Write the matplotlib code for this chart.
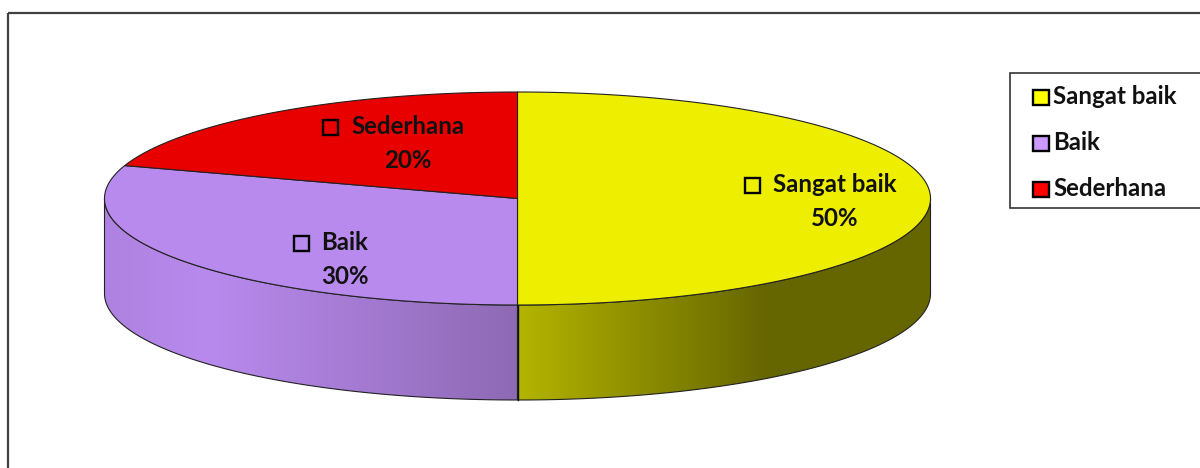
import numpy as np
import matplotlib
matplotlib.use("Agg")
import matplotlib.pyplot as plt
from matplotlib.patches import Polygon, Rectangle
from matplotlib.colors import LinearSegmentedColormap

# data
labels = ["Sangat baik", "Baik", "Sederhana"]
values = [50, 30, 20]
legend_colors = ["#FFFF00", "#CC99FF", "#FF0000"]
top_colors = ["#EEEE00", "#B98AEE", "#E80000"]
side_colors = [("#B4B400", "#666600"), ("#B98AEE", "#8E6AB4"), ("#E80000", "#990000")]

# ellipse geometry (pixel coords)
cx, cy, rx, ry, depth = 517.5, 198.5, 413.0, 106.5, 95.0

plt.rcParams["font.family"] = ["Lato", "DejaVu Sans"]
fig = plt.figure(figsize=(12, 4.68), dpi=100)
ax = fig.add_axes([0, 0, 1, 1])
ax.set_xlim(0, 1200)
ax.set_ylim(468, 0)
ax.axis("off")

# outer frame
ax.add_patch(Rectangle((8, 13), 1250, 500, fill=False, edgecolor="#404040", lw=1.6))


def pt(t, dz=0.0):
    return cx + rx * np.cos(t), cy - ry * np.sin(t) + dz


# slice angles, clockwise from top
total = float(sum(values))
bounds = []
start = 90.0
for v in values:
    end = start - 360.0 * v / total
    bounds.append((start, end))
    start = end

# side walls (front half only: angles between -180 and 0)
for i, (a0, a1) in enumerate(bounds):
    lo, hi = min(a0, a1), max(a0, a1)
    for shift in (0, -360, 360):
        s0, s1 = max(lo + shift, -180), min(hi + shift, 0)
        if s1 <= s0:
            continue
        t = np.radians(np.linspace(s0, s1, 200))
        xt, yt = pt(t)
        xb, yb = pt(t, depth)
        verts = np.column_stack([np.r_[xt, xb[::-1]], np.r_[yt, yb[::-1]]])
        poly = Polygon(verts, closed=True, facecolor="none", edgecolor="#222222", lw=0.8, zorder=2)
        ax.add_patch(poly)
        x0, x1 = verts[:, 0].min(), verts[:, 0].max()
        c0, c1 = side_colors[i]
        if i == 0:
            cmap = LinearSegmentedColormap.from_list("s", [(0, c0), (0.6, c1), (1, c1)])
        else:
            cmap = LinearSegmentedColormap.from_list("s", [(0, "#AE82E0"), (0.25, c0), (1, c1)])
        grad = np.linspace(0, 1, 256)[None, :]
        im = ax.imshow(grad, cmap=cmap, extent=(x0, x1, verts[:, 1].max(), verts[:, 1].min()),
                       aspect="auto", zorder=1.5, interpolation="bilinear")
        im.set_clip_path(poly)

# vertical edge between front side walls
xs, ys = pt(np.radians(-90))
ax.plot([xs, xs], [ys, ys + depth], color="#111111", lw=1.0, zorder=2.5)

# top faces
for i, (a0, a1) in enumerate(bounds):
    t = np.radians(np.linspace(a0, a1, 300))
    xt, yt = pt(t)
    verts = np.column_stack([np.r_[cx, xt], np.r_[cy, yt]])
    ax.add_patch(Polygon(verts, closed=True, facecolor=top_colors[i],
                         edgecolor="#222222", lw=0.8, zorder=3))

FS = 17.3

# data labels
label_pos = [(835, 185), (345, 243), (408, 127)]
for i, (lx, ly) in enumerate(label_pos):
    txt = ax.text(lx, ly, labels[i], ha="center", va="center", fontsize=FS,
                  fontweight="bold", color="#111111", zorder=5)
    ax.text(lx, ly + 33, f"{values[i]}%", ha="center", va="center", fontsize=FS,
            fontweight="bold", color="#111111", zorder=5)
    fig.canvas.draw()
    bb = txt.get_window_extent().transformed(ax.transData.inverted())
    left = min(bb.x0, bb.x1)
    ax.add_patch(Rectangle((left - 28, ly - 7.5), 15, 15, facecolor=top_colors[i],
                           edgecolor="black", lw=1.7, zorder=5))

# legend
ax.add_patch(Rectangle((1010, 73), 250, 135, facecolor="white", edgecolor="#333333", lw=1.2, zorder=4))
for i, name in enumerate(labels):
    ly = 97 + 46 * i
    ax.add_patch(Rectangle((1033, ly - 7.5), 16, 15, facecolor=legend_colors[i],
                           edgecolor="black", lw=1.7, zorder=5))
    ax.text(1053, ly, name, ha="left", va="center", fontsize=FS, fontweight="bold",
            color="#111111", zorder=5)

fig.savefig("out.png", dpi=100)
